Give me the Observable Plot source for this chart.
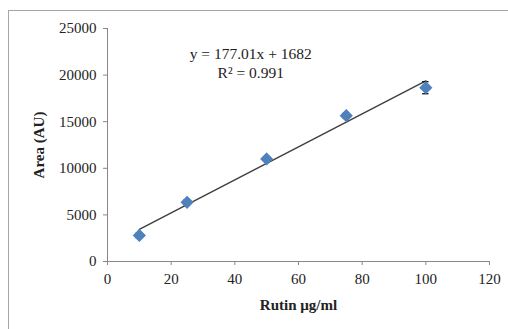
<!DOCTYPE html>
<html>
<head>
<meta charset="utf-8">
<script src="https://cdn.jsdelivr.net/npm/d3@7"></script>
<script src="https://cdn.jsdelivr.net/npm/@observablehq/plot@0.6"></script>
<style>
  html, body { margin: 0; padding: 0; background: #fff; }
  #wrap { position: relative; width: 508px; height: 329px; overflow: hidden; }
  #border { position: absolute; left: 8px; top: 10px; width: 520px; height: 340px; border: 1px solid #a6a6a6; box-sizing: border-box; }
  #chart { position: absolute; left: 0; top: 0; }
</style>
</head>
<body>
<div id="wrap"><div id="border"></div><div id="chart"></div></div>
<script>
const conc = [10, 25, 50, 75, 100];
const area = [2800, 6350, 11000, 15650, 18650];
const err = [250, 250, 250, 250, 650];
const slope = 177.01, intercept = 1682;
const xTicks = [0, 20, 40, 60, 80, 100, 120];
const yTicks = [0, 5000, 10000, 15000, 20000, 25000];
const eqLines = ["y = 177.01x + 1682", "R\u00b2 = 0.991"];
const eqX = [45, 45];
const eqY = [22250, 20250];

const pts = conc.map((c, i) => ({x: c, y: area[i], e: err[i]}));
const fit = [conc[0], conc[conc.length - 1]].map(x => ({x, y: slope * x + intercept}));
const ann = eqLines.map((t, i) => ({t, x: eqX[i], y: eqY[i]}));

const font = "'Liberation Serif', 'Times New Roman', serif";
const plot = Plot.plot({
  width: 508, height: 329,
  marginLeft: 107, marginRight: 19, marginTop: 28, marginBottom: 68,
  style: {fontFamily: font, fontSize: "15px", color: "#222", background: "transparent"},
  x: {domain: [0, 120], ticks: xTicks, label: null},
  y: {domain: [0, 25000], ticks: yTicks, label: null},
  marks: [
    Plot.axisX({ticks: xTicks, tickSize: 4, tickPadding: 8, stroke: "#888", fontSize: 15,
      label: "Rutin \u00b5g/ml", labelAnchor: "center", labelArrow: "none", labelOffset: 48}),
    Plot.axisY({ticks: yTicks, tickSize: 4, tickPadding: 7, stroke: "#888", fontSize: 15,
      tickFormat: d => String(d),
      label: "Area (AU)", labelAnchor: "center", labelArrow: "none", labelOffset: 74}),
    Plot.ruleY([0], {stroke: "#888"}),
    Plot.ruleX([0], {stroke: "#888"}),
    Plot.line(fit, {x: "x", y: "y", stroke: "#404040", strokeWidth: 1.5}),
    Plot.ruleX(pts, {x: "x", y1: d => d.y - d.e, y2: d => d.y + d.e, stroke: "#111", strokeWidth: 1.3}),
    Plot.ruleY(pts, {y: d => d.y - d.e, x1: d => d.x - 1, x2: d => d.x + 1, stroke: "#111", strokeWidth: 1.3}),
    Plot.ruleY(pts, {y: d => d.y + d.e, x1: d => d.x - 1, x2: d => d.x + 1, stroke: "#111", strokeWidth: 1.3}),
    Plot.dot(pts, {x: "x", y: "y", symbol: "diamond2", r: 5, fill: "#4F81BD", stroke: "#4F81BD"}),
    Plot.text(ann, {x: "x", y: "y", text: "t", fontSize: 15.5, fill: "#222"})
  ]
});
plot.querySelectorAll("[aria-label='x-axis label'] text, [aria-label='y-axis label'] text").forEach(t => t.setAttribute("font-weight", "bold"));
document.getElementById("chart").appendChild(plot);
</script>
</body>
</html>
